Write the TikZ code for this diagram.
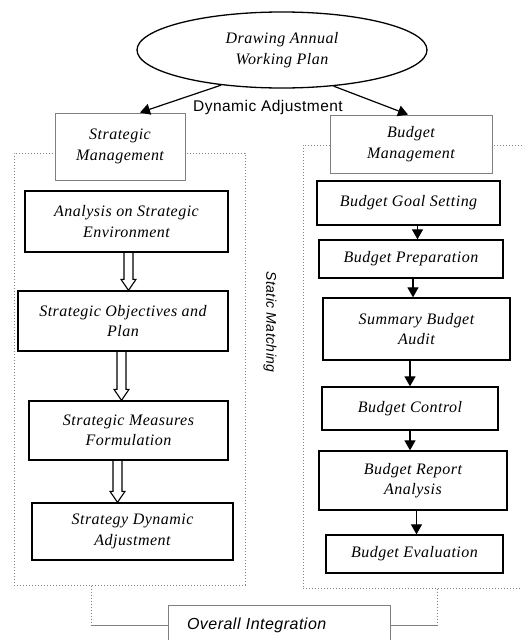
\documentclass[tikz,border=0pt]{standalone}
\usepackage{fontspec}
\setmainfont{Liberation Serif}[LetterSpace=3]
\setsansfont{Liberation Sans}[LetterSpace=3]
\usetikzlibrary{shapes.geometric,arrows.meta,calc}

\tikzset{
    box/.style={draw, line width=1.3pt, inner sep=0pt, align=center,
        font=\fontsize{16}{20.5}\selectfont\itshape},
    graybox/.style={box, draw=gray, line width=0.9pt, fill=white},
    blk/.style={line width=1.2pt, -{Triangle[length=10pt,width=11pt]}},
    hollow/.style={line width=1.1pt, line join=miter},
    dotline/.style={draw=gray, line width=1pt, dotted},
    link/.style={draw=gray, line width=1pt}
}

\newcommand{\openarrow}[3]{%
    \coordinate (s) at ([xshift=#3pt]#1.south);
    \draw
        [hollow] ($(s)+(-4.5,0)$) -- ($(s |- #2.north)+(-4.5,-11)$)
        -- ($(s |- #2.north)+(-7.5,-11)$) -- (s |- #2.north)
        -- ($(s |- #2.north)+(7.5,-11)$) -- ($(s |- #2.north)+(4.5,-11)$)
        -- ($(s)+(4.5,0)$);
}

\begin{document}
\begin{tikzpicture}[x=1pt, y=-1pt]
        \useasboundingbox
            (0,0) rectangle (522,640);
        \clip
            (0,0) rectangle (522,640);
        \node
            [dotline, minimum width=231pt, minimum height=432pt] (lframe) at (129.5,369) {};
        \node
            [dotline, minimum width=227pt, minimum height=443pt] (rframe) at (416.5,366.5) {};
        \node
            [box, ellipse, minimum width=290pt, minimum height=76pt] (plan) at (282,50)
            {Drawing Annual\\Working Plan};
        \node
            [graybox, minimum width=130pt, minimum height=67pt] (strat) at (120,146.5)
            {Strategic\\Management};
        \node
            [graybox, minimum width=162pt, minimum height=58pt] (budget) at (411,144)
            {Budget\\Management};
        \node
            [font=\sffamily\fontsize{15.5}{18}\selectfont] (dyn) at (268,107) {Dynamic Adjustment};
        \node
            [rotate=-90, font=\sffamily\itshape\fontsize{14}{16}\selectfont] (match) at (270,322)
            {Static Matching};
        \node
            [box, minimum width=203pt, minimum height=61pt] (ana) at (126.5,221.5)
            {Analysis on Strategic\\Environment};
        \node
            [box, minimum width=210pt, minimum height=60pt] (obj) at (123,321)
            {Strategic Objectives and\\Plan};
        \node
            [box, minimum width=199pt, minimum height=59pt] (meas) at (128.5,430.5)
            {Strategic Measures\\Formulation};
        \node
            [box, minimum width=201pt, minimum height=57pt] (adj) at (132.5,531.5)
            {Strategy Dynamic\\Adjustment};
        \node
            [box, minimum width=183pt, minimum height=44pt] (goal) at (408.5,203)
            {Budget Goal Setting};
        \node
            [box, minimum width=184pt, minimum height=38pt] (prep) at (411,259)
            {Budget Preparation};
        \node
            [box, minimum width=187pt, minimum height=62pt] (audit) at (416.5,329)
            {Summary Budget\\Audit};
        \node
            [box, minimum width=176pt, minimum height=43pt] (ctrl) at (410,408.5)
            {Budget Control};
        \node
            [box, minimum width=188pt, minimum height=59pt] (report) at (413,480.5)
            {Budget Report\\Analysis};
        \node
            [box, minimum width=177pt, minimum height=38pt] (eval) at (414.5,554)
            {Budget Evaluation};
        \node
            [graybox, minimum width=222pt, minimum height=40pt, text width=184pt, align=left,
            font=\sffamily\itshape\fontsize{16}{18}\selectfont] (overall) at (279,625)
            {Overall Integration};
        \draw
            [blk] (plan.210) -- ([xshift=20pt]strat.north);
        \draw
            [blk] (plan.325) -- ([xshift=-3pt]budget.north);
        \openarrow{ana}{obj}{2}
        \openarrow{obj}{meas}{-1.5}
        \openarrow{meas}{adj}{-11}
        \coordinate (g) at ([xshift=9pt]goal.south);
        \draw
            [blk] (g) -- (g |- prep.north);
        \coordinate (p) at ([xshift=2pt]prep.south);
        \draw
            [blk] (p) -- (p |- audit.north);
        \coordinate (a) at ([xshift=-6.5pt]audit.south);
        \draw
            [blk] (a) -- (a |- ctrl.north);
        \draw
            [blk] (ctrl.south) -- (ctrl.south |- report.north);
        \coordinate (r) at ([xshift=3.5pt]report.south);
        \draw
            [blk] (r) -- (r |- eval.north);
        \coordinate (lc) at ([xshift=-38.5pt]lframe.south);
        \draw
            [dotline] (lc) -- (lc |- overall.west);
        \draw
            [link] (lc |- overall.west) -- (overall.west);
        \coordinate (rc) at ([xshift=20.5pt]rframe.south);
        \draw
            [dotline] (rc) -- (rc |- overall.east);
        \draw
            [link] (overall.east) -- (rc |- overall.east);
    \end{tikzpicture}
\end{document}
